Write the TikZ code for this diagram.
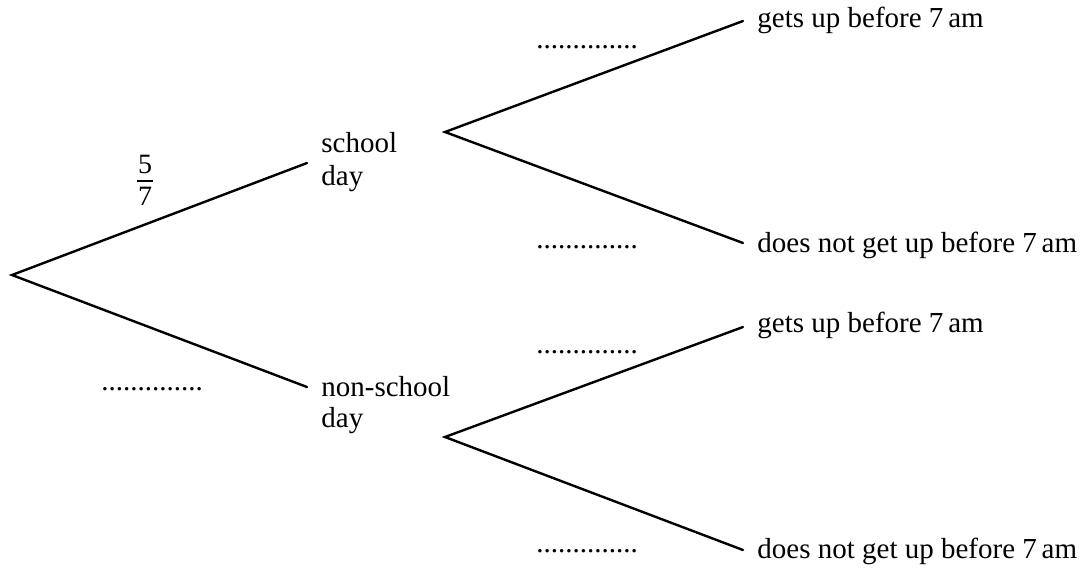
\documentclass[tikz,border=0pt]{standalone}
\usepackage{fontspec}
\setmainfont{Liberation Serif}
\begin{document}
\begin{tikzpicture}[x=0.5pt,y=-0.5pt,
  branch/.style={line width=1.2pt,line cap=round,line join=miter},
  lbl/.style={font=\fontsize{14.5}{16.5}\selectfont,inner sep=0pt,anchor=base west,align=left},
  blank/.style={font=\fontsize{14.5}{16.5}\selectfont,inner sep=0pt,anchor=base west},
  fracdigit/.style={font=\fontsize{14}{16}\selectfont,inner sep=0pt,anchor=base}]
\useasboundingbox (0,0) rectangle (1086,569);
% branch points
\coordinate (r) at (12,275);
\coordinate (s) at (307,163);
\coordinate (n) at (307,387);
\coordinate (s0) at (445,132);
\coordinate (n0) at (445,437);
\coordinate (sg) at (743,21);
\coordinate (sd) at (743,243);
\coordinate (ng) at (743,327);
\coordinate (nd) at (743,550);
% branches
\draw[branch] (s) -- (r) -- (n);
\draw[branch] (sg) -- (s0) -- (sd);
\draw[branch] (ng) -- (n0) -- (nd);
% labels (base anchor = baseline of last line)
\node[lbl] (school) at (321,185) {school\\day};
\node[lbl] (nonschool) at (321,427) {non-school\\[-1pt]day};
\node[lbl] (t1) at (757,27) {gets up before 7\,am};
\node[lbl] (t2) at (757,252) {does not get up before 7\,am};
\node[lbl] (t3) at (757,332) {gets up before 7\,am};
\node[lbl] (t4) at (757,558) {does not get up before 7\,am};
% probability
\node[fracdigit] (num) at (145,173) {5};
\node[fracdigit] (den) at (145,205) {7};
\draw[line width=0.7pt] ([xshift=-4pt,yshift=-4pt]num.base) -- ([xshift=4pt,yshift=-4pt]num.base);
% blanks
\node[blank] (b1) at (101,390) {..............};
\node[blank] (b2) at (536,48) {..............};
\node[blank] (b3) at (536,248) {..............};
\node[blank] (b4) at (536,353) {..............};
\node[blank] (b5) at (536,552) {..............};
\end{tikzpicture}
\end{document}
